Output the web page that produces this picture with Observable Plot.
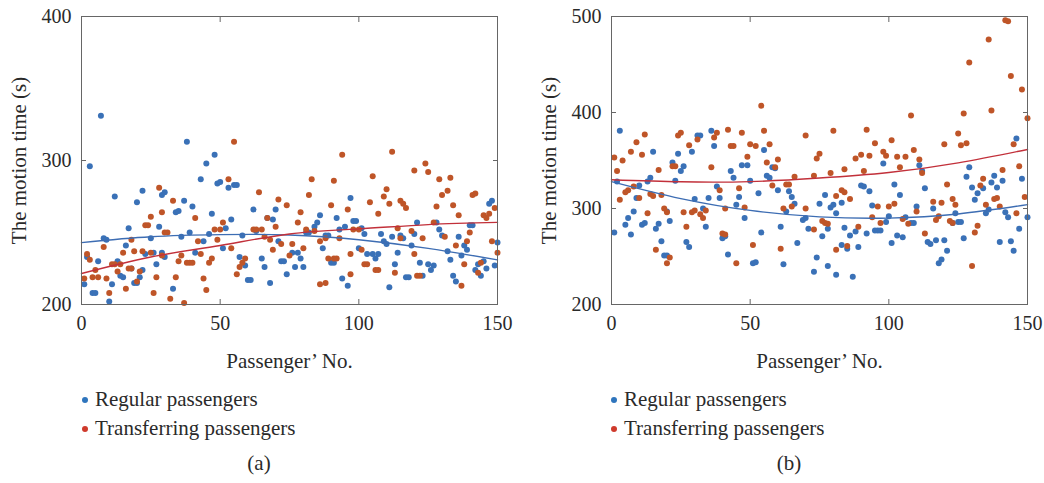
<!DOCTYPE html>
<html><head><meta charset="utf-8">
<script src="https://cdn.jsdelivr.net/npm/d3@7"></script>
<script src="https://cdn.jsdelivr.net/npm/@observablehq/plot@0.6"></script>
<style>
body{margin:0;background:#fff;font-family:"Liberation Serif","DejaVu Serif",serif;color:#2a2a2a;}
#wrap{position:relative;width:1044px;height:483px;overflow:hidden;}
.panel{position:absolute;top:0;}
.leg{position:absolute;font-size:21px;white-space:nowrap;}
.leg .row{height:29px;display:flex;align-items:center;}
.leg .dot{width:6px;height:6px;border-radius:50%;margin-right:7px;}
.cap{position:absolute;font-size:21px;transform:translateX(-50%);}
</style></head>
<body><div id="wrap"></div>
<script>
// ---------- data ----------
const xTicks = [0, 50, 100, 150];
const aYTicks = [200, 300, 400];
const bYTicks = [200, 300, 400, 500];
const seriesNames = ["Regular passengers", "Transferring passengers"];
const xTitle = "Passenger\u2019 No.";
const yTitle = "The motion time (s)";

// Panel (a) regular passengers
const aRegX = [7,3,12,20,22,29,30,37,34,35,40,38,45,48,43,49,50,47,17,8,9,28,25,39,36,16,2,6,13,23,26,29,30,41,44,46,51,27,18,14,15,22,21,19,20,11,1,4,5,10,33,
53,55,56,54,52,58,62,67,69,70,63,71,57,59,60,61,65,66,68,72,73,74,76,78,77,79,80,81,82,84,85,86,87,88,89,92,93,95,97,90,91,94,96,98,99,100,
101,102,103,105,107,106,108,109,110,112,114,115,116,113,111,117,118,119,120,121,122,123,125,127,126,128,129,130,132,133,134,135,136,137,138,139,140,141,142,143,144,145,146,147,148,149,150];
const aRegY = [331,296,275,271,279,276,278,272,264,265,268,313,298,304,287,284,285,263,253,246,245,254,246,250,247,241,233,230,230,235,236,236,233,236,244,249,239,228,225,220,219,224,219,215,215,214,214,208,208,202,211,
281,283,283,259,253,248,266,260,259,266,251,244,233,227,217,217,232,226,215,230,230,221,236,236,226,232,226,250,250,254,257,262,239,248,248,260,252,254,274,229,229,218,213,258,258,239,
253,249,235,235,235,232,249,244,242,247,236,248,246,228,212,219,219,241,249,257,229,220,228,227,224,257,252,248,237,231,220,216,247,234,241,238,255,255,224,228,220,230,225,270,272,227,243];
// Panel (a) transferring passengers
const aTrX = [28,33,29,25,23,24,41,31,30,18,42,48,50,49,8,2,3,15,19,22,25,29,36,43,38,39,40,35,46,47,5,11,12,14,13,17,18,21,1,4,6,9,16,20,27,34,44,10,26,45,32,37,
55,53,64,71,74,83,82,91,94,90,96,51,54,62,63,65,67,70,66,68,72,76,78,79,81,80,84,86,88,93,69,75,97,98,100,56,57,58,59,89,91,92,97,86,88,
112,120,124,125,105,110,109,111,104,107,115,116,117,129,133,130,132,128,134,136,141,142,145,146,147,149,101,114,119,127,123,115,131,140,139,135,148,150,102,103,106,107,113,120,121,122,138,143,144,137];
const aTrY = [281,272,264,261,255,255,260,250,250,245,244,252,252,245,240,235,231,236,237,237,236,234,234,235,229,229,229,230,229,232,224,228,228,228,223,225,225,223,218,219,219,218,211,216,219,219,218,208,208,210,204,201,
313,287,278,273,269,287,276,286,304,269,266,257,239,252,252,252,260,254,247,245,242,242,257,264,252,239,251,244,246,246,238,234,235,252,252,221,226,229,232,232,232,232,221,214,215,
306,293,298,292,289,280,275,270,271,263,272,270,267,287,288,276,279,268,269,262,276,277,262,260,263,267,238,253,251,257,246,246,247,250,244,241,244,236,228,228,224,224,222,235,220,220,228,222,229,213];
// Panel (b) regular passengers
const bRegX = [3,15,24,22,25,26,31,32,36,37,29,14,13,23,2,10,9,8,6,5,1,7,11,12,16,17,20,21,18,19,20,27,28,30,33,34,35,38,39,40,41,42,43,44,45,46,47,49,48,50,51,
55,56,57,58,59,53,60,64,65,66,63,69,70,54,61,67,71,52,62,74,73,77,75,78,76,78,79,80,81,83,84,81,83,85,86,88,87,89,90,91,92,93,94,95,96,97,98,99,100,
146,111,112,129,128,148,102,113,130,132,134,137,138,139,141,104,131,110,116,103,101,105,106,108,109,114,115,117,120,121,119,118,123,125,126,124,127,135,136,140,144,142,143,145,147,150];
const bRegY = [381,359,357,348,339,344,376,376,381,365,359,332,328,329,328,324,311,297,290,283,275,273,283,285,279,284,297,287,266,251,251,265,260,310,300,281,311,323,311,269,271,252,339,332,304,312,345,345,290,329,243,
361,334,332,343,342,316,319,318,312,305,297,288,290,275,281,264,279,244,242,249,234,314,305,279,271,240,301,304,295,306,280,231,262,258,272,276,229,260,324,323,274,318,303,277,277,277,347,286,292,
373,345,339,343,333,331,325,321,322,316,321,327,334,322,329,314,309,302,300,272,264,270,291,285,285,265,263,267,267,256,247,243,285,286,286,295,269,295,299,265,266,296,291,256,279,291];
// Panel (b) transferring passengers
const bTrX = [1,2,4,7,9,11,12,3,5,6,8,10,14,15,17,18,13,19,20,22,23,24,25,28,31,16,20,21,26,27,29,30,32,33,34,36,37,38,39,40,41,41,42,43,44,46,47,48,49,50,51,45,
54,55,52,57,56,59,60,70,74,75,80,79,73,66,63,64,58,84,88,90,93,92,95,91,98,99,81,83,84,86,65,62,70,73,76,77,78,94,96,97,100,89,61,81,85,
142,143,136,129,144,148,108,127,137,150,125,126,128,120,145,101,103,106,109,111,104,112,141,147,121,134,133,102,116,119,123,124,135,138,139,140,149,110,105,107,117,122,123,113,131,132,146,130,118];
const bTrY = [353,339,350,359,369,356,377,309,317,319,323,311,315,313,340,314,295,300,296,344,344,376,379,366,372,257,243,249,296,281,296,298,294,290,298,343,374,379,319,274,273,300,382,365,365,321,379,301,354,367,262,243,
407,381,365,367,348,343,351,376,352,357,381,337,334,333,325,325,324,341,352,356,355,382,368,339,359,355,313,319,317,310,302,300,300,278,287,285,284,291,302,285,302,281,258,257,261,
496,495,476,452,438,424,397,399,402,394,378,366,368,367,367,371,354,354,361,351,343,337,340,344,325,331,324,305,307,306,310,304,304,310,311,302,312,297,289,284,288,287,285,274,275,282,295,240,292];

// fitted trend curves, read at these x positions
const fitX = [0, 25, 50, 75, 100, 125, 150];
const aRegFit = [243, 247, 248.5, 248.3, 245, 239, 231];
const aTrFit = [221.5, 233, 241, 249, 252.5, 255.5, 257];
const bRegFit = [328, 310.3, 298, 291.3, 290, 294.3, 304];
const bTrFit = [330, 327.8, 328, 331.7, 337.5, 347.5, 361.5];

// ---------- styling ----------
const C = {
  regDot: "#3a71b7", trDot: "#bf5528",
  regLine: "#3d6db3", trLine: "#c2303a",
  legReg: "#2f75bd", legTr: "#cf3a2c",
  frame: "#666", text: "#2a2a2a"
};
const FONT = "Liberation Serif, DejaVu Serif, serif";

function toRows(xs, ys){ return xs.map((x,i)=>({x, y: ys[i]})); }

function makePanel(regX, regY, trX, trY, regFit, trFit, yDomain, yTicks){
  const reg = toRows(regX, regY), tr = toRows(trX, trY);
  const rf = toRows(fitX, regFit), tf = toRows(fitX, trFit);
  return Plot.plot({
    width: 510, height: 370,
    marginLeft: 81, marginRight: 13, marginTop: 16, marginBottom: 66,
    style: {fontFamily: FONT, fontSize: "20px", color: C.text, background: "#fff", overflow: "visible"},
    x: {domain: [0, 150]},
    y: {domain: yDomain},
    marks: [
      Plot.dot(reg, {x: "x", y: "y", r: 3, fill: C.regDot, stroke: "none"}),
      Plot.dot(tr, {x: "x", y: "y", r: 3, fill: C.trDot, stroke: "none"}),
      Plot.line(rf, {x: "x", y: "y", stroke: C.regLine, strokeWidth: 1.4, curve: "natural"}),
      Plot.line(tf, {x: "x", y: "y", stroke: C.trLine, strokeWidth: 1.4, curve: "natural"}),
      Plot.frame({stroke: C.frame, strokeWidth: 1}),
      Plot.axisX({anchor: "bottom", ticks: xTicks, tickSize: -5, tickPadding: 16, stroke: C.frame, label: null}),
      Plot.axisX({anchor: "top", ticks: xTicks, tickSize: -5, tickFormat: () => "", label: null, stroke: C.frame}),
      Plot.axisY({anchor: "left", ticks: yTicks, tickSize: -5, tickPadding: 15, stroke: C.frame, label: null}),
      Plot.axisY({anchor: "right", ticks: yTicks, tickSize: -5, tickFormat: () => "", label: null, stroke: C.frame}),
      Plot.text([xTitle], {frameAnchor: "bottom", text: d => d, dy: 57, fontSize: 21, lineAnchor: "middle", fill: C.text}),
      Plot.text([yTitle], {frameAnchor: "left", text: d => d, rotate: -90, dx: -62, fontSize: 21, lineAnchor: "middle", textAnchor: "middle", fill: C.text})
    ]
  });
}

const wrap = document.getElementById("wrap");
function place(el, left){ const d = document.createElement("div"); d.className = "panel"; d.style.left = left + "px"; d.appendChild(el); wrap.appendChild(d); }
place(makePanel(aRegX, aRegY, aTrX, aTrY, aRegFit, aTrFit, [200, 400], aYTicks), 0);
place(makePanel(bRegX, bRegY, bTrX, bTrY, bRegFit, bTrFit, [200, 500], bYTicks), 530);

function legend(left, top){
  const d = document.createElement("div"); d.className = "leg"; d.style.left = left + "px"; d.style.top = top + "px";
  [[seriesNames[0], C.legReg], [seriesNames[1], C.legTr]].forEach(([t, c]) => {
    const r = document.createElement("div"); r.className = "row";
    const s = document.createElement("span"); s.className = "dot"; s.style.background = c;
    const tx = document.createElement("span"); tx.textContent = t;
    r.appendChild(s); r.appendChild(tx); d.appendChild(r);
  });
  wrap.appendChild(d);
}
legend(82, 385);
legend(611, 385);
function caption(t, x, y){ const d = document.createElement("div"); d.className = "cap"; d.style.left = x + "px"; d.style.top = y + "px"; d.textContent = t; wrap.appendChild(d); }
caption("(a)", 259, 451);
caption("(b)", 789, 451);
</script></body></html>
